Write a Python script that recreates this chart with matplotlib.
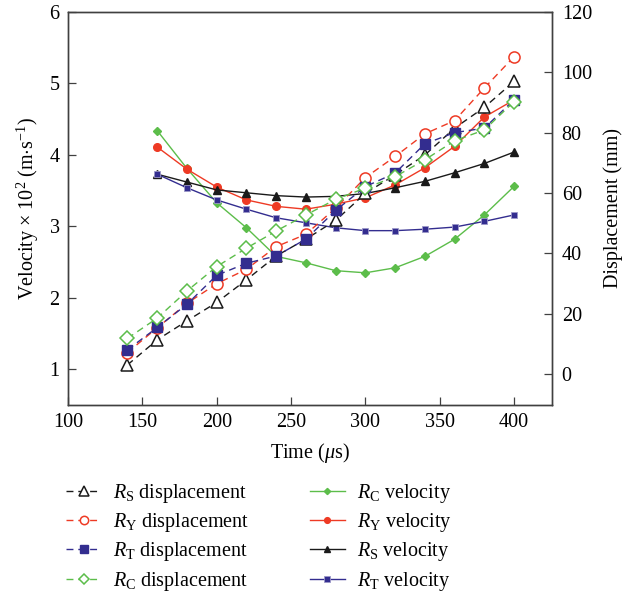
import numpy as np
import matplotlib
matplotlib.use("Agg")
import matplotlib.pyplot as plt

plt.rcParams["font.family"] = "Liberation Serif"
plt.rcParams["mathtext.fontset"] = "custom"
plt.rcParams["mathtext.rm"] = "Liberation Serif"
plt.rcParams["mathtext.it"] = "Liberation Serif:italic"
plt.rcParams["font.size"] = 14.5

# --- data ---
t_disp = [140, 160, 180, 200, 220, 240, 260, 280, 300, 320, 340, 360, 380, 400]
t_vel = [160, 180, 200, 220, 240, 260, 280, 300, 320, 340, 360, 380, 400]

rs_disp = [3.0, 11.3, 17.6, 23.7, 31.2, 39.1, 44.7, 50.9, 59.9, 66.0, 72.6, 81.5, 88.4, 97.0]
ry_disp = [7.1, 15.3, 23.4, 29.9, 34.7, 42.2, 46.3, 55.0, 65.1, 72.1, 79.6, 84.0, 94.8, 105.2]
rt_disp = [8.0, 15.4, 23.1, 32.7, 36.7, 39.1, 44.7, 54.2, 62.1, 66.6, 76.3, 80.0, 81.5, 90.9]
rc_disp = [11.8, 18.5, 27.5, 35.6, 41.7, 47.4, 52.7, 57.9, 61.6, 65.4, 71.0, 77.3, 80.9, 90.3]

rc_vel = [4.34, 3.81, 3.33, 2.98, 2.58, 2.49, 2.38, 2.35, 2.42, 2.58, 2.82, 3.16, 3.56]
ry_vel = [4.11, 3.80, 3.55, 3.37, 3.28, 3.24, 3.31, 3.40, 3.58, 3.82, 4.12, 4.53, 4.77]
rs_vel = [3.73, 3.62, 3.51, 3.47, 3.43, 3.41, 3.42, 3.46, 3.54, 3.63, 3.75, 3.88, 4.04]
rt_vel = [3.73, 3.54, 3.37, 3.24, 3.12, 3.05, 2.98, 2.94, 2.94, 2.96, 2.99, 3.07, 3.16]

BLACK = "#1a1a1a"
RED = "#ee3a24"
BLUE = "#332d8f"
GREEN = "#5cbd4a"
SPINE = "#404040"

fig = plt.figure(figsize=(6.38, 5.95), dpi=100)
ax = fig.add_axes([68 / 638, 190 / 595, 484 / 638, 393 / 595])
ax2 = ax.twinx()

dash = (0, (5, 3.5))

# velocities (left axis)
lv_c, = ax.plot(t_vel, rc_vel, "-", color=GREEN, lw=1.0, marker="D", ms=4.2,
                mfc=GREEN, mec=GREEN, label=r"$R_\mathrm{C}$ velocity")
lv_y, = ax.plot(t_vel, ry_vel, "-", color=RED, lw=1.0, marker="o", ms=5.5,
                mfc=RED, mec=RED, label=r"$R_\mathrm{Y}$ velocity")
lv_s, = ax.plot(t_vel, rs_vel, "-", color=BLACK, lw=1.0, marker="^", ms=5.5,
                mfc=BLACK, mec=BLACK, label=r"$R_\mathrm{S}$ velocity")
lv_t, = ax.plot(t_vel, rt_vel, "-", color=BLUE, lw=1.0, marker="s", ms=5,
                mfc=BLUE, mec="#9c98c8", mew=0.6, label=r"$R_\mathrm{T}$ velocity")

# displacements (right axis)
ld_s, = ax2.plot(t_disp, rs_disp, ls=dash, color=BLACK, lw=1.0, marker="^", ms=9,
                 mfc="white", mec=BLACK, mew=1.1, label=r"$R_\mathrm{S}$ displacement")
ld_y, = ax2.plot(t_disp, ry_disp, ls=dash, color=RED, lw=1.0, marker="o", ms=8,
                 mfc="white", mec=RED, mew=1.1, label=r"$R_\mathrm{Y}$ displacement")
ld_t, = ax2.plot(t_disp, rt_disp, ls=dash, color=BLUE, lw=1.0, marker="s", ms=7.5,
                 mfc=BLUE, mec=BLUE, label=r"$R_\mathrm{T}$ displacement")
ld_c, = ax2.plot(t_disp, rc_disp, ls=dash, color=GREEN, lw=1.0, marker="D", ms=7,
                 mfc="white", mec=GREEN, mew=1.1, label=r"$R_\mathrm{C}$ displacement")

ax.set_xlim(100, 425.5)
ax.set_ylim(0.5, 6)
ax2.set_ylim(-10.3, 120)
ax.set_xticks([100, 150, 200, 250, 300, 350, 400])
ax.set_yticks([1, 2, 3, 4, 5, 6])
ax2.set_yticks([0, 20, 40, 60, 80, 100, 120])

ax.set_xlabel(r"Time ($\mu$s)", labelpad=6)
ax.set_ylabel(r"Velocity $\times$ 10$^2$ (m$\cdot$s$^{-1}$)", labelpad=6)
ax2.set_ylabel("Displacement (mm)", labelpad=8)

for a in (ax, ax2):
    for s in a.spines.values():
        s.set_color(SPINE)
        s.set_linewidth(1.0)
ax.tick_params(axis="both", direction="in", length=6, width=0.9, color=SPINE, pad=6)
ax.tick_params(axis="x", top=False)
ax.tick_params(axis="y", right=False)
ax2.tick_params(axis="y", direction="in", length=6, width=0.9, color=SPINE, pad=7)

handles = [ld_s, ld_y, ld_t, ld_c, lv_c, lv_y, lv_s, lv_t]
fig.legend(handles=handles, labels=[h.get_label() for h in handles],
           loc="upper left", bbox_to_anchor=(66 / 638, 1 - 482 / 595),
           ncol=2, frameon=False, borderpad=0, borderaxespad=0,
           handlelength=1.75, handletextpad=0.6, columnspacing=3.0,
           labelspacing=0.31, fontsize=14.5, markerscale=0.75)

fig.savefig("out.png", dpi=100)
